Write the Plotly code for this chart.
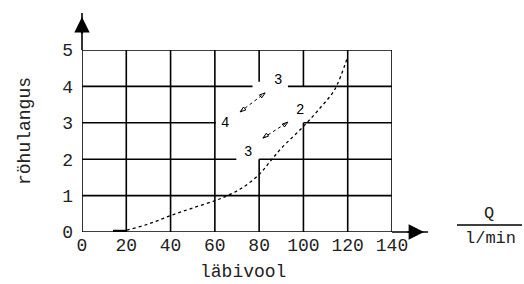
import plotly.graph_objects as go

# ---- data ----
flow = [15, 20, 30, 40, 50, 60, 65, 72, 80, 85, 90, 100, 108, 114, 120]
pressure_drop = [0.0, 0.05, 0.22, 0.45, 0.66, 0.86, 0.98, 1.2, 1.58, 1.94, 2.3, 2.9, 3.44, 3.9, 4.82]
x_ticks = [0, 20, 40, 60, 80, 100, 120, 140]
y_ticks = [0, 1, 2, 3, 4, 5]
curve_labels = ["3", "2", "4", "3"]

FONT = "Liberation Mono"
W, H = 524, 284
ML, MR, MT, MB = 82, 132, 50, 52
PW, PH = W - ML - MR, H - MT - MB

def px_x(p):  # pixel -> paper
    return (p - ML) / PW

def px_y(p):
    return (H - MB - p) / PH

fig = go.Figure()

# grid segments (with gaps where the diagram has labels)
vert = {0: [(0, 5)], 20: [(0, 5)], 40: [(0, 5)], 60: [(0, 5)],
        80: [(0, 2), (4.13, 5)], 100: [(0, 3), (4, 5)],
        120: [(0, 5)], 140: [(0, 5)]}
horiz = {0: [(0, 140)], 1: [(0, 140)], 2: [(0, 69.7), (80, 140)],
         3: [(0, 60.5), (100, 140)], 4: [(0, 77), (93, 140)], 5: [(0, 140)]}
shapes = []
for xv, segs in vert.items():
    for a, b in segs:
        shapes.append(dict(type="line", xref="x", yref="y", x0=xv, x1=xv, y0=a, y1=b,
                           line=dict(color="black", width=1.6)))
for yv, segs in horiz.items():
    for a, b in segs:
        shapes.append(dict(type="line", xref="x", yref="y", x0=a, x1=b, y0=yv, y1=yv,
                           line=dict(color="black", width=1.6)))
# bold start segment
shapes.append(dict(type="line", xref="x", yref="y", x0=14, x1=20, y0=0.02, y1=0.02,
                   line=dict(color="black", width=3)))
# axis extensions
shapes.append(dict(type="line", xref="paper", yref="paper", x0=1, x1=px_x(428), y0=0, y1=0,
                   line=dict(color="black", width=1.6)))
shapes.append(dict(type="line", xref="paper", yref="paper", x0=0, x1=0, y0=1, y1=px_y(13),
                   line=dict(color="black", width=1.6)))
# fraction line for Q / l/min
shapes.append(dict(type="line", xref="paper", yref="paper", x0=px_x(457), x1=px_x(522),
                   y0=px_y(225), y1=px_y(225), line=dict(color="black", width=1.3)))

# curve
fig.add_trace(go.Scatter(x=flow, y=pressure_drop, mode="lines",
                         line=dict(color="black", width=1.3, dash="dot", shape="spline"),
                         hoverinfo="skip", showlegend=False))

# double arrows
for (x0, y0, x1, y1) in [(71.4, 3.3, 82.7, 3.82), (81.7, 2.58, 93, 3.02)]:
    fig.add_trace(go.Scatter(x=[x0, x1], y=[y0, y1], mode="lines+markers",
                             line=dict(color="black", width=1, dash="dot"),
                             marker=dict(symbol="arrow-open", size=6, angle=[233, 53],
                                         color="black", line=dict(color="black", width=1)),
                             hoverinfo="skip", showlegend=False))

annotations = []
# axis arrow heads
annotations.append(dict(xref="paper", yref="paper", x=px_x(424), y=0, ax=-18, ay=0,
                        showarrow=True, arrowhead=2, arrowsize=1.4, arrowwidth=2.2,
                        arrowcolor="black", text=""))
annotations.append(dict(xref="paper", yref="paper", x=0, y=px_y(17), ax=0, ay=18,
                        showarrow=True, arrowhead=2, arrowsize=1.4, arrowwidth=2.2,
                        arrowcolor="black", text=""))
# curve labels
for txt, (lx, ly) in zip(curve_labels, [(88.5, 4.18), (98.5, 3.35), (64.6, 3.0), (75, 2.2)]):
    annotations.append(dict(xref="x", yref="y", x=lx, y=ly, text=txt, showarrow=False,
                            xanchor="center", yanchor="middle",
                            font=dict(family=FONT, size=14, color="black")))
# titles
def label(px, py, txt, size, angle=0):
    return dict(xref="paper", yref="paper", x=px_x(px), y=px_y(py), text=txt,
                textangle=angle, showarrow=False, xanchor="center", yanchor="middle",
                font=dict(family=FONT, size=size, color="#222"))

annotations.append(label(25, 131, "röhulangus", 18, -90))
annotations.append(label(243, 272, "läbivool", 18))
annotations.append(label(489, 213, "Q", 17))
annotations.append(label(490, 238, "l/min", 17))

fig.update_layout(
    width=W, height=H, margin=dict(l=ML, r=MR, t=MT, b=MB, autoexpand=False),
    paper_bgcolor="white", plot_bgcolor="white",
    shapes=shapes, annotations=annotations,
    xaxis=dict(range=[0, 140], showgrid=False, zeroline=False, showline=False, automargin=False,
               tickvals=x_ticks, ticktext=[str(v) for v in x_ticks], ticks="",
               tickfont=dict(family=FONT, size=18, color="#222"), ticklabelstandoff=0),
    yaxis=dict(range=[0, 5], showgrid=False, zeroline=False, showline=False, automargin=False,
               tickvals=y_ticks, ticktext=[str(v) for v in y_ticks], ticks="",
               tickfont=dict(family=FONT, size=18, color="#222"), ticklabelstandoff=8),
)

fig.write_html("out.html", config={"displayModeBar": False},
               post_script="document.body.style.margin='0';document.body.style.overflow='hidden';")
